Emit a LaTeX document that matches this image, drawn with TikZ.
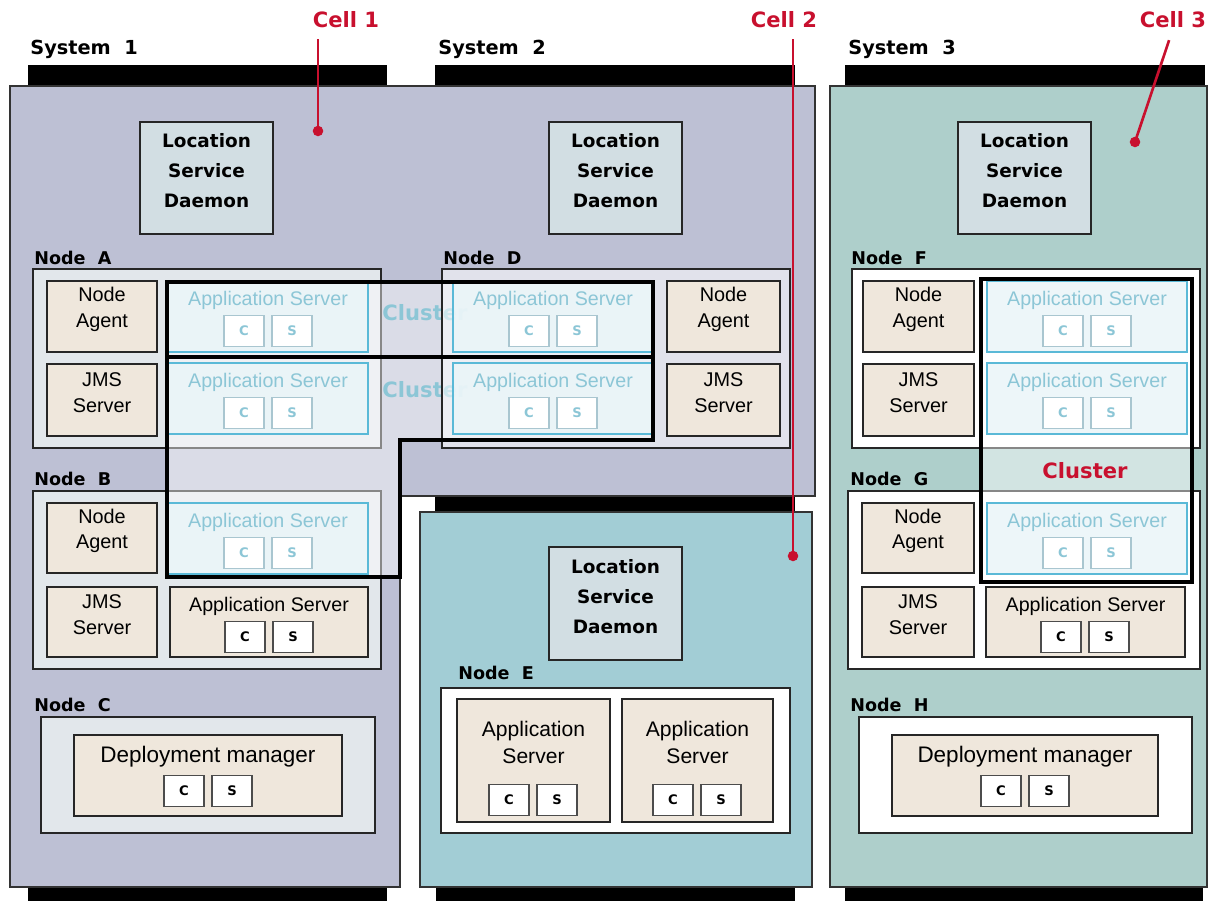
\documentclass[tikz,border=0pt]{standalone}
\usepackage{fontspec}
\setmainfont{Liberation Sans}
\newfontfamily\heavyfont{DejaVu Sans}
\usetikzlibrary{positioning,fit,calc}

\definecolor{cellonefill}{HTML}{BDC0D4}
\definecolor{celltwofill}{HTML}{A2CDD5}
\definecolor{cellthreefill}{HTML}{AECFCB}
\definecolor{lsdfill}{HTML}{D2DEE3}
\definecolor{nodegray}{HTML}{E2E7EB}
\definecolor{agentbeige}{HTML}{EFE7DC}
\definecolor{clfill}{HTML}{EAF5F8}
\definecolor{cledge}{HTML}{5AB9D7}
\definecolor{cltext}{HTML}{8CC6D6}
\definecolor{clcs}{HTML}{A9C6D0}
\definecolor{cellred}{HTML}{C8102E}

\begin{document}
\begin{tikzpicture}[x=0.02cm, y=-0.02cm,
		sys_bar/.style={fill=black},
		cell_edge/.style={draw=black!80, line width=1.1pt},
		lsd_box/.style={draw=black!85, fill=lsdfill, line width=1.2pt, inner sep=0pt, align=center, font=\heavyfont\bfseries\fontsize{10.5}{17}\selectfont},
		node_box/.style={draw=black!85, line width=1.3pt, inner sep=0pt},
		node_label/.style={anchor=west, inner sep=0pt, font=\heavyfont\bfseries\fontsize{10}{12}\selectfont},
		sys_label/.style={anchor=west, inner sep=0pt, font=\heavyfont\bfseries\fontsize{11}{13}\selectfont},
		cell_label/.style={inner sep=0pt, text=cellred, font=\heavyfont\bfseries\fontsize{12}{14}\selectfont},
		beige_box/.style={draw=black!85, fill=agentbeige, line width=1.3pt, inner sep=0pt, align=center, font=\fontsize{11.3}{14.7}\selectfont},
		cl_server/.style={draw=cledge, fill=clfill, fill opacity=0.85, line width=1.3pt, inner sep=0pt},
		cl_text/.style={text=cltext, inner sep=0pt, font=\fontsize{11.2}{13}\selectfont},
		as_text/.style={inner sep=0pt, font=\fontsize{11.2}{13}\selectfont},
		cs_tile/.style={draw=black!70, fill=white, line width=0.9pt, minimum width=0.8cm, minimum height=0.62cm, inner sep=0pt, font=\heavyfont\bfseries\fontsize{7.5}{8}\selectfont},
		cl_tile/.style={cs_tile, draw=clcs, text=cltext},
		cluster_edge/.style={draw=black, line width=2.6pt},
		cluster_fill/.style={fill=white, opacity=0.45},
		cluster_label/.style={inner sep=0pt, font=\heavyfont\bfseries\fontsize{12}{14}\selectfont},
		pointer/.style={draw=cellred, line width=1.5pt},
		pointer_dot/.style={fill=cellred}
		]
		
		\path[use as bounding box] (0,0) rectangle (1210,901);
		
		% system bars
		\fill[sys_bar] (28,65) rectangle (387,86); \fill[sys_bar] (435,65) rectangle (795,86); \fill[sys_bar] (845,65) rectangle (1205,86);
		\fill[sys_bar] (435,496) rectangle (795,512);
		\fill[sys_bar] (28,887) rectangle (387,901); \fill[sys_bar] (436,887) rectangle (795,901); \fill[sys_bar] (845,887) rectangle (1203,901);
		\node[sys_label] (sysone) at (30,49) {System\ \ 1};
		\node[sys_label] (systwo) at (438,49) {System\ \ 2};
		\node[sys_label] (systhree) at (848,49) {System\ \ 3};
		
		% cells
		\draw[cell_edge, fill=cellonefill] (10,86) -- (815,86) -- (815,496) -- (400,496) -- (400,887) -- (10,887) -- cycle;
		\draw[cell_edge, fill=celltwofill] (420,512) rectangle (812,887);
		\draw[cell_edge, fill=cellthreefill] (830,86) rectangle (1207,887);
		
		\node[lsd_box, fit={(140,122) (273,234)}] (lsdA) {Location\\Service\\Daemon};
		\node[lsd_box, fit={(549,122) (682,234)}] (lsdB) {Location\\Service\\Daemon};
		\node[lsd_box, fit={(958,122) (1091,234)}] (lsdC) {Location\\Service\\Daemon};
		\node[lsd_box, fit={(549,547) (682,660)}] (lsdE) {Location\\Service\\Daemon};
		
		% nodes
		\node[node_label] (labA) at (34,258) {Node\ \ A}; \node[node_label] (labD) at (443,258) {Node\ \ D};
		\node[node_label] (labB) at (34,479) {Node\ \ B}; \node[node_label] (labC) at (34,705) {Node\ \ C};
		\node[node_label] (labE) at (458,673) {Node\ \ E}; \node[node_label] (labF) at (851,258) {Node\ \ F};
		\node[node_label] (labG) at (850,479) {Node\ \ G}; \node[node_label] (labH) at (850,705) {Node\ \ H};
		
		\node[node_box, fill=nodegray, fit={(33,269) (381,448)}] (nodeA) {};
		\node[node_box, fill=nodegray, fit={(33,491) (381,669)}] (nodeB) {};
		\node[node_box, fill=nodegray, fit={(41,717) (375,833)}] (nodeC) {};
		\node[node_box, fill=white, fit={(441,688) (790,833)}] (nodeE) {};
		\node[node_box, fill=white, fit={(852,269) (1200,448)}] (nodeF) {};
		\node[node_box, fill=white, fit={(848,491) (1200,669)}] (nodeG) {};
		\node[node_box, fill=white, fit={(859,717) (1192,833)}] (nodeH) {};
		
		\foreach \n/\xa/\ya/\xb/\yb in {agentA/47/281/157/352, agentB/47/503/157/573, agentF/863/281/974/352, agentG/862/503/974/573}
			\node[beige_box, fit={(\xa,\ya) (\xb,\yb)}] (\n) {Node\\Agent};
		\foreach \n/\xa/\ya/\xb/\yb in {jmsA/47/364/157/436, jmsB/47/587/157/657, jmsF/863/364/974/436, jmsG/862/587/974/657}
			\node[beige_box, fit={(\xa,\ya) (\xb,\yb)}] (\n) {JMS\\Server};
		
		\node[beige_box, fit={(170,587) (368,657)}] (asB2) {}; \node[as_text] (asB2-t) at ($(asB2.north)+(0,21)$) {Application Server};
		\node[beige_box, fit={(986,587) (1185,657)}] (asG2) {}; \node[as_text] (asG2-t) at ($(asG2.north)+(0,21)$) {Application Server};
		\node[beige_box, fit={(457,699) (610,822)}] (asE1) {}; \node[as_text, align=center, font=\fontsize{12}{15.3}\selectfont] (asE1-t) at ($(asE1.north)+(0,45)$) {Application\\Server};
		\node[beige_box, fit={(622,699) (773,822)}] (asE2) {}; \node[as_text, align=center, font=\fontsize{12}{15.3}\selectfont] (asE2-t) at ($(asE2.north)+(0,45)$) {Application\\Server};
		\node[beige_box, fit={(74,735) (342,816)}] (dmC) {}; \node[as_text, font=\fontsize{12.8}{15}\selectfont] (dmC-t) at ($(dmC.north)+(0,23)$) {Deployment manager};
		\node[beige_box, fit={(892,735) (1158,816)}] (dmH) {}; \node[as_text, font=\fontsize{12.8}{15}\selectfont] (dmH-t) at ($(dmH.north)+(0,23)$) {Deployment manager};
		\foreach \n/\cx/\cy in {B2/269/637, G2/1085/637, E1/533/800, E2/697/800, C/208/791, H/1025/791} {
			\node[cs_tile] (c\n) at (\cx-24,\cy) {C}; \node[cs_tile] (s\n) at (\cx+24,\cy) {S};
		}
		
		% clusters
		\fill[cluster_fill] (167,282) rectangle (653,357);
		\fill[cluster_fill] (167,357) -- (653,357) -- (653,440) -- (400,440) -- (400,577) -- (167,577) -- cycle;
		\fill[cluster_fill] (981,279) rectangle (1192,582);
		\node[cluster_label, text=cltext] (clOne-t) at (425,313) {Cluster};
		\node[cluster_label, text=cltext] (clTwo-t) at (425,390) {Cluster};
		\node[cluster_label, text=cellred] (clThree-t) at (1085,471) {Cluster};
		
		\node[node_box, fill=white, fill opacity=0.55, fit={(442,269) (790,448)}] (nodeD) {};
		\node[beige_box, fit={(667,281) (780,352)}] (agentD) {Node\\Agent};
		\node[beige_box, fit={(667,364) (780,436)}] (jmsD) {JMS\\Server};
		
		\foreach \n/\xa/\ya in {A1/168/281, A2/168/363, D1/453/281, D2/453/363, B1/168/503, F1/987/281, F2/987/363, G1/987/503} {
			\node[cl_server, fit={(\xa,\ya) (\xa+200,\ya+71)}] (as\n) {};
			\node[cl_text] (as\n-t) at ($(as\n.north)+(0,21)$) {Application Server};
			\node[cl_tile] (c\n) at (\xa+76,\ya+50) {C}; \node[cl_tile] (s\n) at (\xa+124,\ya+50) {S};
		}
		
		\draw[cluster_edge] (167,282) rectangle (653,357);
		\draw[cluster_edge] (167,357) -- (653,357) -- (653,440) -- (400,440) -- (400,577) -- (167,577) -- cycle;
		\draw[cluster_edge] (981,279) rectangle (1192,582);
		
		% cell pointers
		\node[cell_label] (cellone) at (346,20) {Cell 1};
		\node[cell_label] (celltwo) at (784,20) {Cell 2};
		\node[cell_label] (cellthree) at (1173,20) {Cell 3};
		\coordinate (c1dot) at (318,131); \coordinate (c2dot) at (793,556); \coordinate (c3dot) at (1135,142);
		\draw[pointer, shorten <=6pt] (cellone.south -| c1dot) -- (c1dot);
		\draw[pointer, shorten <=6pt] (celltwo.south -| c2dot) -- (c2dot);
		\draw[pointer, shorten <=7pt] (cellthree.south) -- (c3dot);
		\foreach \pt in {c1dot, c2dot, c3dot} \fill[pointer_dot] (\pt) circle[radius=3pt];
	\end{tikzpicture}
\end{document}
